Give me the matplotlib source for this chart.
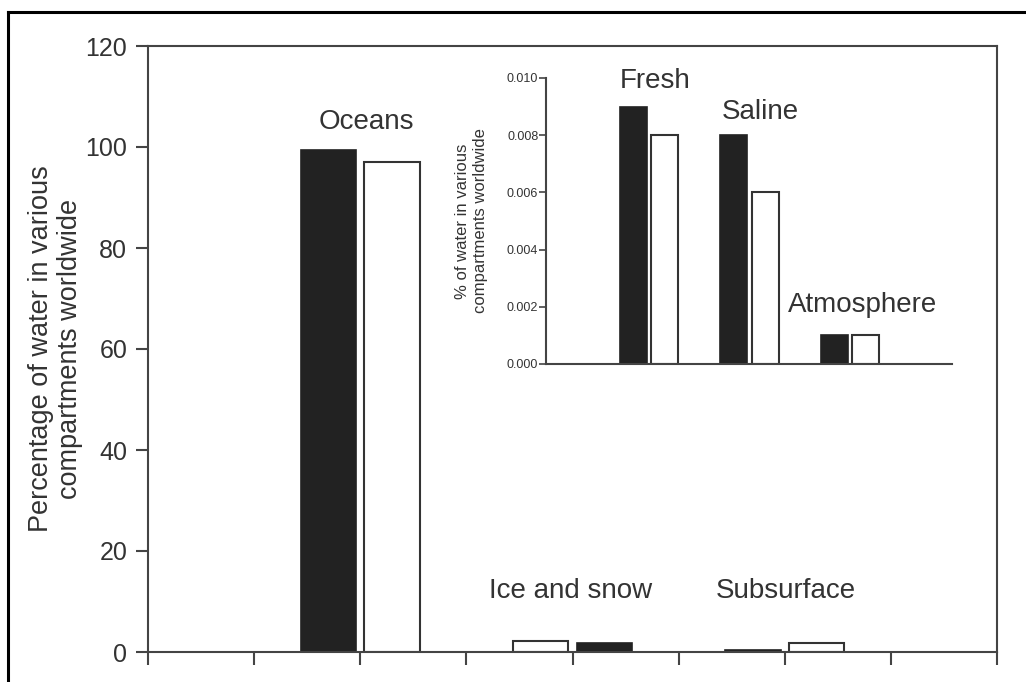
import numpy as np
import matplotlib
matplotlib.use("Agg")
import matplotlib.pyplot as plt
from matplotlib.lines import Line2D

plt.rcParams['font.family'] = ['Liberation Sans', 'DejaVu Sans']

# main compartments (% of world water), two estimates per compartment
categories = ["Oceans", "Ice and snow", "Subsurface"]
filled = [99.5, 1.8, 0.4]
hollow = [97.0, 2.1, 1.8]

# minor compartments shown in the inset
inset_categories = ["Fresh", "Saline", "Atmosphere"]
inset_filled = [0.009, 0.008, 0.001]
inset_hollow = [0.008, 0.006, 0.001]

main_ticks = [0, 20, 40, 60, 80, 100, 120]
inset_ticks = [0.000, 0.002, 0.004, 0.006, 0.008, 0.010]

ink = "#333333"
dark = "#222222"
axis_c = "#444444"

fig = plt.figure(figsize=(10.26, 6.82), dpi=100)

# frame around the whole figure (top and left edges show)
fig.add_artist(Line2D([8/1026, 1.0], [1 - 12/682, 1 - 12/682], transform=fig.transFigure,
                      color="black", lw=2.2))
fig.add_artist(Line2D([8/1026, 8/1026], [0.0, 1 - 12/682], transform=fig.transFigure,
                      color="black", lw=2.2))

ax = fig.add_axes([148/1026, 30/682, 849/1026, 606/682])
pos = np.array([2, 4, 6])
side = np.array([-1, 1, -1])  # which side the filled bar sits on
w, off = 0.52, 0.30
ax.bar(pos + side*off, filled, width=w, color=dark, edgecolor=dark, lw=1.2)
ax.bar(pos - side*off, hollow, width=w, color="white", edgecolor=ink, lw=1.5)

ax.set_xlim(0, 8)
ax.set_ylim(0, 120)
ax.set_xticks(range(9))
ax.set_xticklabels([])
ax.set_yticks(main_ticks)
ax.tick_params(direction="out", length=9, width=1.5, color=axis_c,
               labelsize=18, labelcolor=ink, pad=6)
for s in ax.spines.values():
    s.set_color(axis_c)
    s.set_linewidth(1.5)
ax.set_ylabel("Percentage of water in various\ncompartments worldwide",
              fontsize=19.5, color=ink, labelpad=2, linespacing=1.12)

label_xy = [(2.055, 105), (3.98, 12), (6.01, 12)]
for (x, y), t in zip(label_xy, categories):
    ax.text(x, y, t, ha="center", va="center", fontsize=20, color=ink)

# inset
ins = fig.add_axes([546/1026, 318/682, 406/1026, 286/682])
ipos = np.array([1, 2, 3])
iw, ioff = 0.27, 0.155
ins.bar(ipos - ioff, inset_filled, width=iw, color=dark, edgecolor=dark, lw=1.2)
ins.bar(ipos + ioff, inset_hollow, width=iw, color="white", edgecolor=ink, lw=1.5)
ins.set_xlim(-0.03, 4.02)
ins.set_ylim(0, 0.010)
ins.set_xticks([])
ins.set_yticks(inset_ticks)
ins.set_yticklabels([f"{v:.3f}" for v in inset_ticks])
ins.tick_params(direction="out", length=5, width=1.2, color=axis_c,
                labelsize=9, labelcolor=ink, pad=0.5)
ins.spines["top"].set_visible(False)
ins.spines["right"].set_visible(False)
for k in ("left", "bottom"):
    ins.spines[k].set_color(axis_c)
    ins.spines[k].set_linewidth(1.5)
ins.patch.set_alpha(0)
ins.set_ylabel("% of water in various\ncompartments worldwide",
               fontsize=12, color=ink, labelpad=14, linespacing=1.2)

inset_label_xy = [(1.055, 0.0099), (2.11, 0.0088), (3.13, 0.00206)]
for (x, y), t in zip(inset_label_xy, inset_categories):
    ins.text(x, y, t, ha="center", va="center", fontsize=20, color=ink)

fig.savefig("out.png", dpi=100)
